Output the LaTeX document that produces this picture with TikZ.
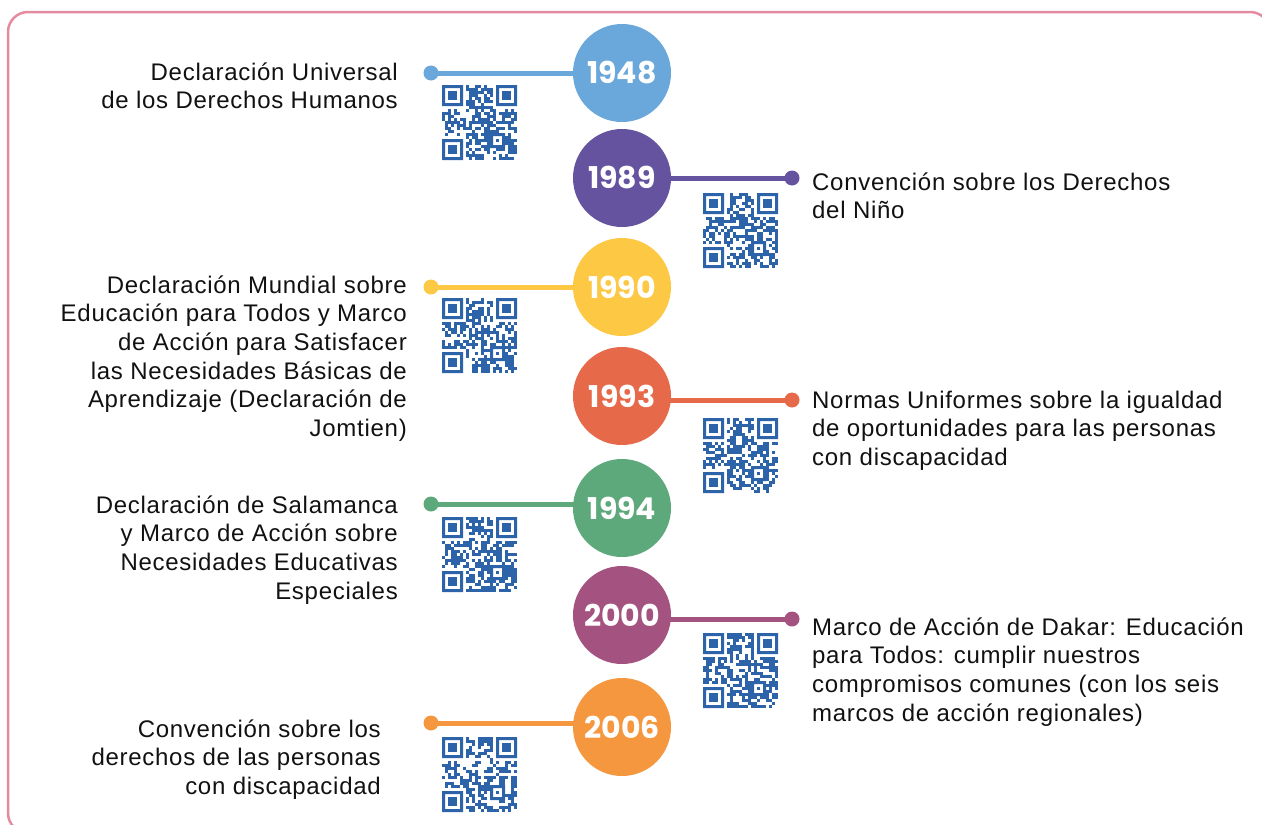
\documentclass[tikz,border=0pt]{standalone}
\usepackage{fontspec}
\setmainfont[LetterSpace=3]{Liberation Sans}
\newfontfamily\yearfam{Poppins}
\usetikzlibrary{backgrounds}
\definecolor{ink}{HTML}{111111}
\definecolor{frame}{HTML}{E58BA1}
\definecolor{qrblue}{HTML}{2D63A8}
\definecolor{c1948}{HTML}{6AA7DA}
\definecolor{c1989}{HTML}{65539F}
\definecolor{c1990}{HTML}{FDC844}
\definecolor{c1993}{HTML}{E6694A}
\definecolor{c1994}{HTML}{5EA97B}
\definecolor{c2000}{HTML}{A4527F}
\definecolor{c2006}{HTML}{F4973F}
\newcommand\txtfont{\fontsize{24}{28.6}\selectfont}
\newcommand\yrfont{\yearfam\bfseries\fontsize{30}{30}\selectfont}
\begin{document}
\begin{tikzpicture}[x=1pt,y=-1pt,
  yr/.style={circle,fill=#1,minimum size=98pt,inner sep=0pt,text=white,font=\yrfont},
  ydot/.style={circle,fill=#1,minimum size=15pt,inner sep=0pt},
  link/.style={draw=#1,line width=5pt},
  ltxt/.style={anchor=north east,align=right,inner sep=0pt,text=ink,font=\txtfont},
  rtxt/.style={anchor=north west,align=left,inner sep=0pt,text=ink,font=\txtfont},
  qr/.pic={
    \pgfmathsetseed{#1}
    \foreach \r in {0,...,24}{
      \foreach \c in {0,...,24}{
        \pgfmathtruncatemacro{\qrf}{(rnd<0.55)*(1-((\r<8)*(\c<8)+(\r<8)*(\c>16)+(\r>16)*(\c<8)+(\r>15)*(\r<21)*(\c>15)*(\c<21)))}
        \ifnum\qrf=1 \fill[qrblue] (\c*3,\r*3) rectangle ++(3.05,3.05);\fi
      }
    }
    \fill[qrblue,even odd rule] (0,0) rectangle (21,21) (3,3) rectangle (18,18);
    \fill[qrblue] (6,6) rectangle (15,15);
    \fill[qrblue,even odd rule] (54,0) rectangle (75,21) (57,3) rectangle (72,18);
    \fill[qrblue] (60,6) rectangle (69,15);
    \fill[qrblue,even odd rule] (0,54) rectangle (21,75) (3,57) rectangle (18,72);
    \fill[qrblue] (6,60) rectangle (15,69);
    \fill[qrblue,even odd rule] (48,48) rectangle (63,63) (51,51) rectangle (60,60);
    \fill[qrblue] (54,54) rectangle (57,57);
  }]
\useasboundingbox (0,0) rectangle (1262,825);
\begin{scope}
\clip (0,0) rectangle (1262,825);
\draw[frame,line width=2.5pt,rounded corners=20pt] (8,12) rectangle (1270,833);
\end{scope}

% circles
\node[yr=c1948] (y1948) at (622,73) {1948};
\node[yr=c1989] (y1989) at (622,178) {1989};
\node[yr=c1990] (y1990) at (622,287) {1990};
\node[yr=c1993] (y1993) at (622,396) {1993};
\node[yr=c1994] (y1994) at (622,508) {1994};
\node[yr=c2000] (y2000) at (622,615) {2000};
\node[yr=c2006] (y2006) at (622,727) {2006};

% dots
\node[ydot=c1948] (d1948) at (431,73) {};
\node[ydot=c1989] (d1989) at (792,178) {};
\node[ydot=c1990] (d1990) at (431,287) {};
\node[ydot=c1993] (d1993) at (792,400) {};
\node[ydot=c1994] (d1994) at (431,504) {};
\node[ydot=c2000] (d2000) at (792,619) {};
\node[ydot=c2006] (d2006) at (431,723) {};

\begin{scope}[on background layer]
\draw[link=c1948] (d1948.center) -- (d1948.center -| y1948.center);
\draw[link=c1989] (d1989.center) -- (d1989.center -| y1989.center);
\draw[link=c1990] (d1990.center) -- (d1990.center -| y1990.center);
\draw[link=c1993] (d1993.center) -- (d1993.center -| y1993.center);
\draw[link=c1994] (d1994.center) -- (d1994.center -| y1994.center);
\draw[link=c2000] (d2000.center) -- (d2000.center -| y2000.center);
\draw[link=c2006] (d2006.center) -- (d2006.center -| y2006.center);
\end{scope}

% QR codes
\pic at (442,85) {qr=11};
\pic at (703,193) {qr=23};
\pic at (442,298) {qr=37};
\pic at (703,418) {qr=41};
\pic at (442,517) {qr=53};
\pic at (703,633) {qr=67};
\pic at (442,737) {qr=79};

% texts
\node[ltxt] (t1948) at (398,60) {\strut Declaración Universal\\de los Derechos Humanos};
\node[rtxt] (t1989) at (812,170) {\strut Convención sobre los Derechos\\del Niño};
\node[ltxt] (t1990) at (407,273) {\strut Declaración Mundial sobre\\Educación para Todos y Marco\\de Acción para Satisfacer\\las Necesidades Básicas de\\Aprendizaje (Declaración de\\Jomtien)};
\node[rtxt] (t1993) at (812,388) {\strut Normas Uniformes sobre la igualdad\\de oportunidades para las personas\\con discapacidad};
\node[ltxt] (t1994) at (398,493) {\strut Declaración de Salamanca\\y Marco de Acción sobre\\Necesidades Educativas\\Especiales};
\node[rtxt] (t2000) at (812,615) {\strut Marco de Acción de Dakar: Educación\\para Todos: cumplir nuestros\\compromisos comunes (con los seis\\marcos de acción regionales)};
\node[ltxt] (t2006) at (381,717) {\strut Convención sobre los\\derechos de las personas\\con discapacidad};
\end{tikzpicture}
\end{document}
